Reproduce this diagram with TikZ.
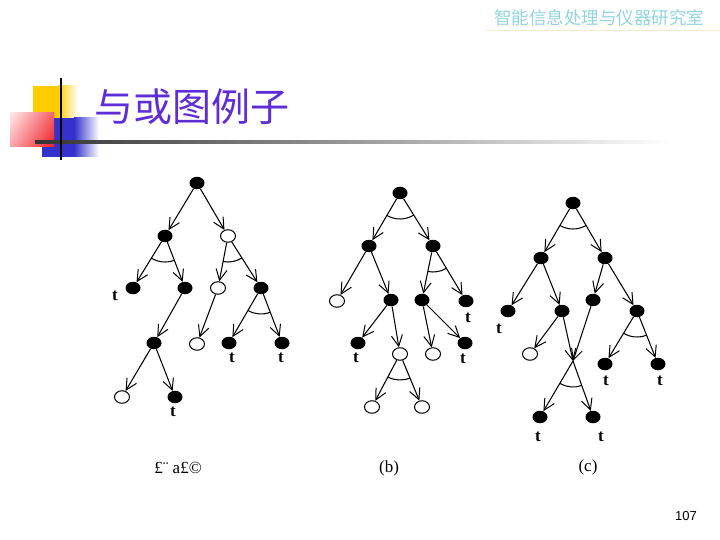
\documentclass[tikz,border=0pt]{standalone}
\usepackage{fontspec}
\setmainfont{Liberation Serif}
\newfontfamily\cjk{Noto Sans CJK SC}
\newfontfamily\lsans{Liberation Sans}
\usetikzlibrary{arrows.meta,calc,shapes.geometric}
\definecolor{titlec}{RGB}{95,45,215}
\definecolor{hdrc}{RGB}{145,212,222}
\definecolor{hdrline}{RGB}{245,235,200}
\definecolor{decoY}{RGB}{255,204,0}
\definecolor{decoB}{RGB}{51,51,204}
\definecolor{decoR}{RGB}{240,30,40}
\newcommand\myandarc[3]{\draw[andarc] let \p1=($(#2)-(#1)$), \p2=($(#3)-(#1)$),
  \n1={atan2(\y1,\x1)}, \n2={atan2(\y2,\x2)} in
  ($(#1)+(\n1:26pt)$) arc[start angle=\n1, end angle=\n2, radius=26pt];}
\tikzset{
  bn/.style={ellipse, fill=black, minimum width=15pt, minimum height=12.5pt, inner sep=0pt},
  wn/.style={ellipse, draw=black, fill=white, line width=1pt, minimum width=15pt, minimum height=12.5pt, inner sep=0pt},
  tedge/.style={line width=1.05pt, -{Straight Barb[length=11pt,width=11pt,line width=1pt]}},
  andarc/.style={line width=1.05pt},
  lbl/.style={font=\bfseries\fontsize{17}{17}\selectfont, inner sep=0pt},
  captxt/.style={font=\fontsize{17}{17}\selectfont, inner sep=0pt},
}
\begin{document}
\begin{tikzpicture}[x=1pt,y=-1pt]
\useasboundingbox (0,0) rectangle (720,540);
% header
\node[text=hdrc, inner sep=0pt] (hdr) at (599,18) {\cjk\fontsize{17.5}{18}\selectfont 智能信息处理与仪器研究室};
\draw[hdrline, line width=0.8pt] (485,30) -- (720,30);
% decorations
\fill[decoY] (33,86) rectangle (58,118);
\shade[left color=decoY, right color=white] (58,86) rectangle (78,118);
\fill[decoB] (42,118) rectangle (74,157);
\shade[left color=decoB, right color=white] (74,118) rectangle (99,157);
\shade[left color=red!12, right color=decoR] (10,113) rectangle (54,147);
\shade[top color=white, bottom color=decoR, opacity=0.3] (10,113) rectangle (54,147);
\shade[left color=black!80, right color=white] (35,141) rectangle (670,143.5);
\fill[black] (60,78) rectangle (62.2,160);
% title
\node[text=titlec, anchor=west, inner sep=0pt] (title) at (94,107) {\cjk\fontsize{39}{40}\selectfont 与或图例子};
% ---------- tree (a)
\node[bn] (a0) at (197,183) {};
\node[bn] (a1) at (165,236) {};
\node[wn] (a2) at (228,236) {};
\node[bn] (a3) at (133,288) {};
\node[bn] (a4) at (185,288) {};
\node[wn] (a5) at (218,288) {};
\node[bn] (a6) at (261,288) {};
\node[bn] (a7) at (154,343) {};
\node[wn] (a8) at (197,344) {};
\node[bn] (a9) at (229,343) {};
\node[bn] (a10) at (282,343) {};
\node[wn] (a11) at (122,397) {};
\node[bn] (a12) at (175,397) {};
\draw[tedge] (a0) -- (a1);
\draw[tedge] (a0) -- (a2);
\draw[tedge] (a1) -- (a3);
\draw[tedge] (a1) -- (a4);
\draw[tedge] (a2) -- (a5);
\draw[tedge] (a2) -- (a6);
\draw[tedge] (a4) -- (a7);
\draw[tedge] (a5) -- (a8);
\draw[tedge] (a6) -- (a9);
\draw[tedge] (a6) -- (a10);
\draw[tedge] (a7) -- (a11);
\draw[tedge] (a7) -- (a12);
\myandarc{a1}{a3}{a4}
\myandarc{a2}{a5}{a6}
\myandarc{a6}{a9}{a10}
\node[lbl] (la3) at (115,296) {t};
\node[lbl] (la9) at (232,358) {t};
\node[lbl] (la10) at (281,358) {t};
\node[lbl] (la12) at (173,412) {t};
\node[captxt] (capa) at (178,468) {£¨ a£©};
% ---------- tree (b)
\node[bn] (b0) at (400,193) {};
\node[bn] (b1) at (369,246) {};
\node[bn] (b2) at (433,246) {};
\node[wn] (b3) at (337,301) {};
\node[bn] (b4) at (391,300) {};
\node[bn] (b5) at (422,300) {};
\node[bn] (b6) at (466,301) {};
\node[bn] (b7) at (358,343) {};
\node[wn] (b8) at (400,354) {};
\node[wn] (b9) at (433,354) {};
\node[bn] (b10) at (465,343) {};
\node[wn] (b11) at (372,407) {};
\node[wn] (b12) at (422,407) {};
\draw[tedge] (b0) -- (b1);
\draw[tedge] (b0) -- (b2);
\draw[tedge] (b1) -- (b3);
\draw[tedge] (b1) -- (b4);
\draw[tedge] (b2) -- (b5);
\draw[tedge] (b2) -- (b6);
\draw[tedge] (b4) -- (b7);
\draw[tedge] (b4) -- (b8);
\draw[tedge] (b5) -- (b9);
\draw[tedge] (b5) -- (b10);
\draw[tedge] (b8) -- (b11);
\draw[tedge] (b8) -- (b12);
\myandarc{b0}{b1}{b2}
\myandarc{b2}{b5}{b6}
\myandarc{b8}{b11}{b12}
\node[lbl] (lb6) at (468,318) {t};
\node[lbl] (lb7) at (356,358) {t};
\node[lbl] (lb10) at (463,359) {t};
\node[captxt] (capb) at (389,468) {(b)};
% ---------- tree (c)
\node[bn] (c0) at (573,203) {};
\node[bn] (c1) at (541,258) {};
\node[bn] (c2) at (605,258) {};
\node[bn] (c3) at (508,311) {};
\node[bn] (c4) at (562,311) {};
\node[bn] (c5) at (593,300) {};
\node[bn] (c6) at (637,311) {};
\node[wn] (c7) at (530,354) {};
\coordinate (cx) at (573,361);
\node[bn] (c8) at (605,364) {};
\node[bn] (c9) at (658,364) {};
\node[bn] (c10) at (540,417) {};
\node[bn] (c11) at (593,417) {};
\draw[tedge] (c0) -- (c1);
\draw[tedge] (c0) -- (c2);
\draw[tedge] (c1) -- (c3);
\draw[tedge] (c1) -- (c4);
\draw[tedge] (c2) -- (c5);
\draw[tedge] (c2) -- (c6);
\draw[tedge] (c4) -- (c7);
\draw[tedge] (c4) -- (cx);
\draw[tedge] (c5) -- (cx);
\draw[tedge] (c6) -- (c8);
\draw[tedge] (c6) -- (c9);
\draw[tedge] (cx) -- (c10);
\draw[tedge] (cx) -- (c11);
\myandarc{c0}{c1}{c2}
\myandarc{c6}{c8}{c9}
\myandarc{cx}{c10}{c11}
\node[lbl] (lc3) at (499,329) {t};
\node[lbl] (lc8) at (606,381) {t};
\node[lbl] (lc9) at (660,381) {t};
\node[lbl] (lc10) at (538,437) {t};
\node[lbl] (lc11) at (601,437) {t};
\node[captxt] (capc) at (588,467) {(c)};
% page number
\node[inner sep=0pt, font=\lsans\fontsize{13}{13}\selectfont] (pg) at (686,516) {107};
\end{tikzpicture}
\end{document}
